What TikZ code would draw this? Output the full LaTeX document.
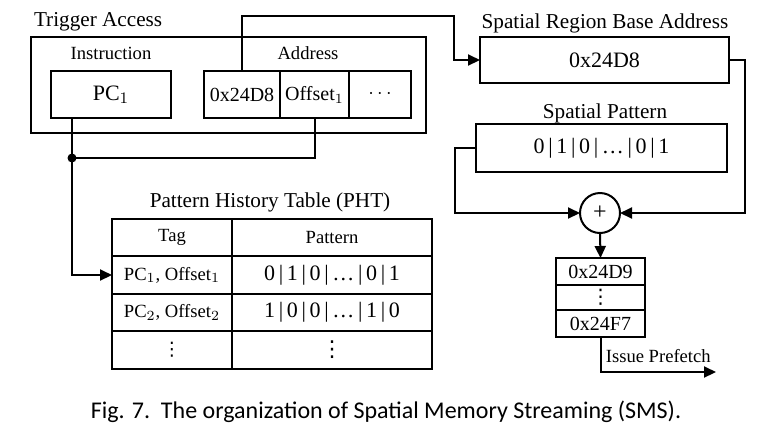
\documentclass[tikz,border=0pt]{standalone}
\usepackage{fontspec}
\setmainfont{Liberation Serif}
\newfontfamily\capfont{Carlito}
\newfontfamily\symfont{DejaVu Sans}
\usepackage{tikz}
\usetikzlibrary{arrows.meta, positioning, calc}
\newcommand{\vdts}{{\symfont ⋮}}
\tikzset{%
	box/.style={draw, rectangle, inner sep=0pt, outer sep=0pt,%
		font=\fontsize{11}{12}\selectfont},
	cell/.style={box, font=\fontsize{10}{11}\selectfont},
	tagcell/.style={box, font=\fontsize{9.3}{11}\selectfont},
	lbl/.style={inner sep=0pt, font=\fontsize{9.3}{11}\selectfont},
	head/.style={inner sep=0pt, font=\fontsize{10.6}{12}\selectfont},
	sum/.style={draw, circle, minimum size=20pt, inner sep=0pt, outer sep=0pt,%
		font=\fontsize{12}{12}\selectfont},
	connector/.style={line width=1pt},
	sel/.style={connector, -{Triangle[length=6pt, width=5.5pt]}}
}

\begin{document}
\begin{tikzpicture}[x=0.5pt, y=-0.5pt, line width=1pt]
	\useasboundingbox (0,0) rectangle (763,430);

	% trigger access
	\node[box, minimum width=197.5pt, minimum height=48pt] (trig) at (228.5,85) {};
	\node[head, anchor=base west] (trigl) at (33,26) {Trigger Access};
	\node[lbl, anchor=base] (instl) at (111,59) {Instruction};
	\node[lbl, anchor=base] (addrl) at (308,59) {Address};
	\node[box, minimum width=60pt, minimum height=23.5pt] (pc) at (111,94.5) {PC$_1$};
	\node[cell, minimum width=38pt, minimum height=23.5pt] (base) at (242,94.5) {0x24D8};
	\node[cell, minimum width=34.5pt, minimum height=23.5pt, right=0pt of base] (off) {Offset$_1$};
	\node[cell, minimum width=31pt, minimum height=23.5pt, right=0pt of off] (more) {$\cdots$};

	% spatial region and pattern
	\node[head, anchor=base] (srbl) at (605,28) {Spatial Region Base Address};
	\node[box, minimum width=124.5pt, minimum height=23pt] (srb) at (604.5,60) {0x24D8};
	\node[head, anchor=base] (patl) at (605,118) {Spatial Pattern};
	\node[box, minimum width=125.5pt, minimum height=24pt] (pat) at (601.5,148)
		{0\,|\,1\,|\,0\,|\,\dots\,|\,0\,|\,1};
	\node[sum] (plus) at (600,213) {+};

	% prefetch addresses
	\node[cell, minimum width=44.5pt, minimum height=13.5pt] (s1) at (600.5,271.5) {0x24D9};
	\node[cell, minimum width=44.5pt, minimum height=12.5pt, below=0pt of s1] (s2) {\vdts};
	\node[cell, minimum width=44.5pt, minimum height=13.5pt, below=0pt of s2] (s3) {0x24F7};

	% pattern history table
	\node[head, anchor=base] (phtl) at (270,207) {Pattern History Table (PHT)};
	\node[tagcell, minimum width=60pt, minimum height=18.75pt] (t0) at (172,237.5) {Tag};
	\node[tagcell, minimum width=100pt, minimum height=18.75pt] (p0) at (332,237.5) {Pattern};
	\foreach \tg/\pt [count=\i] in {%
			{PC$_1$, Offset$_1$}/{0\,|\,1\,|\,0\,|\,\dots\,|\,0\,|\,1},%
			{PC$_2$, Offset$_2$}/{1\,|\,0\,|\,0\,|\,\dots\,|\,1\,|\,0},%
			\vdts/\vdts}{
		\node[tagcell, minimum width=60pt, minimum height=18.75pt] (t\i) at (172,237.5+37.5*\i) {\tg};
		\node[box, minimum width=100pt, minimum height=18.75pt] (p\i) at (332,237.5+37.5*\i) {\pt};
	}

	\coordinate (jn) at (72,158);
	\coordinate (up) at (454,16);
	\coordinate (rt) at (745,213);
	\coordinate (lt) at (455,213);
	\coordinate (issue) at (716,372);

	\draw[sel] (base.north) |- (up) |- (srb.west);
	\draw[sel] (srb.east) -| (rt) -- (plus.east);
	\draw[sel] (pat.west) -| (lt) -- (plus.west);
	\draw[sel] (plus.south) -- (s1.north);
	\draw[sel] (s3.south) |- node[lbl, pos=0.75, above=4pt] {Issue Prefetch} (issue);
	\draw[connector] (jn |- pc.south) -- (jn);
	\draw[connector] (off.south) |- (jn);
	\draw[sel] (jn) |- (t1.west);
	\fill (jn) circle (4.5);

	\node[anchor=base, font=\capfont\fontsize{12}{14}\selectfont] (cap) at (386,418)
		{Fig. 7.\ \ The organization of Spatial Memory Streaming (SMS).};
\end{tikzpicture}
\end{document}
